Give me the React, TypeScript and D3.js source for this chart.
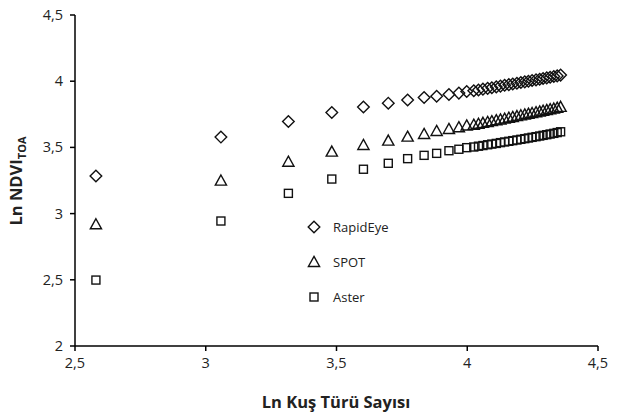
import React from "react";
import * as d3 from "d3";

const xValues = [
  2.580, 3.058, 3.316, 3.482, 3.603, 3.698, 3.772, 3.835, 3.883, 3.930, 3.968, 3.998,
  4.025, 4.043, 4.060, 4.078, 4.094, 4.111, 4.127, 4.143, 4.159, 4.174, 4.190, 4.205,
  4.220, 4.234, 4.248, 4.263, 4.277, 4.290, 4.304, 4.317, 4.331, 4.344, 4.357,
];
const rapidEye = [
  3.284, 3.578, 3.696, 3.764, 3.805, 3.834, 3.858, 3.877, 3.886, 3.900, 3.910, 3.922,
  3.928, 3.934, 3.940, 3.946, 3.951, 3.957, 3.963, 3.969, 3.974, 3.979, 3.985, 3.990,
  3.995, 4.000, 4.005, 4.010, 4.015, 4.020, 4.025, 4.030, 4.035, 4.040, 4.046,
];
const spot = [
  2.919, 3.249, 3.392, 3.468, 3.518, 3.551, 3.581, 3.601, 3.624, 3.639, 3.652, 3.665,
  3.671, 3.678, 3.685, 3.692, 3.698, 3.705, 3.711, 3.717, 3.724, 3.730, 3.736, 3.742,
  3.748, 3.754, 3.759, 3.765, 3.771, 3.777, 3.782, 3.788, 3.793, 3.799, 3.806,
];
const aster = [
  2.498, 2.944, 3.153, 3.261, 3.335, 3.380, 3.415, 3.440, 3.455, 3.475, 3.486, 3.498,
  3.503, 3.509, 3.514, 3.520, 3.525, 3.530, 3.536, 3.541, 3.546, 3.551, 3.556, 3.561,
  3.566, 3.571, 3.576, 3.581, 3.586, 3.591, 3.596, 3.601, 3.606, 3.612, 3.618,
];
const xTicks = [2.5, 3, 3.5, 4, 4.5];
const yTicks = [2, 2.5, 3, 3.5, 4, 4.5];
const seriesNames = ["RapidEye", "SPOT", "Aster"];

const W = 620;
const H = 419;
const FONT = "'Open Sans', 'Liberation Sans', sans-serif";

const fmt = (v: number) => String(v).replace(".", ",");

function Marker({ kind, x, y }: { kind: number; x: number; y: number }) {
  const stroke = "#111";
  if (kind === 0) {
    const r = 5.8;
    return (
      <path
        d={`M${x},${y - r}L${x + r},${y}L${x},${y + r}L${x - r},${y}Z`}
        fill="none"
        stroke={stroke}
        strokeWidth={1.4}
      />
    );
  }
  if (kind === 1) {
    const s = 5.6;
    return (
      <path
        d={`M${x},${y - s}L${x + s},${y + s * 0.8}L${x - s},${y + s * 0.8}Z`}
        fill="none"
        stroke={stroke}
        strokeWidth={1.4}
      />
    );
  }
  const h = 4;
  return (
    <rect x={x - h} y={y - h} width={2 * h} height={2 * h} fill="none" stroke={stroke} strokeWidth={1.4} />
  );
}

export default function App() {
  const x = d3.scaleLinear().domain([2.5, 4.5]).range([75, 598]);
  const y = d3.scaleLinear().domain([2, 4.5]).range([346, 15]);
  const series = [rapidEye, spot, aster];
  const legendY = [227, 262, 297];

  return (
    <svg
      width={W}
      height={H}
      style={{ position: "absolute", left: 0, top: 0, background: "#fff" }}
      fontFamily={FONT}
    >
      <rect width={W} height={H} fill="#fff" />
      <line x1={x(2.5)} x2={x(4.5)} y1={y(2)} y2={y(2)} stroke="#000" strokeWidth={1.5} />
      <line x1={x(2.5)} x2={x(2.5)} y1={y(2)} y2={y(4.5)} stroke="#000" strokeWidth={1.5} />
      {xTicks.map((t) => (
        <g key={"xt" + t}>
          <line x1={x(t)} x2={x(t)} y1={y(2)} y2={y(2) + 5} stroke="#000" strokeWidth={1.5} />
          <text x={x(t)} y={y(2) + 22} textAnchor="middle" fontSize={14.5} fill="#222">
            {fmt(t)}
          </text>
        </g>
      ))}
      {yTicks.map((t) => (
        <g key={"yt" + t}>
          <line x1={x(2.5) - 5} x2={x(2.5)} y1={y(t)} y2={y(t)} stroke="#000" strokeWidth={1.5} />
          <text x={x(2.5) - 12} y={y(t) + 5} textAnchor="end" fontSize={14.5} fill="#222">
            {fmt(t)}
          </text>
        </g>
      ))}
      <text x={336} y={408} textAnchor="middle" fontSize={16.5} fontWeight="bold" fill="#222">
        Ln Kuş Türü Sayısı
      </text>
      <text
        transform="translate(22,181) rotate(-90)"
        textAnchor="middle"
        fontSize={16.5}
        fontWeight="bold"
        fill="#222"
      >
        Ln NDVI
        <tspan fontSize={11} dy={4}>
          TOA
        </tspan>
      </text>
      {series.map((s, si) => (
        <g key={"s" + si}>
          {s.map((v, i) => (
            <Marker key={i} kind={si} x={x(xValues[i])} y={y(v)} />
          ))}
        </g>
      ))}
      {seriesNames.map((n, i) => (
        <g key={"lg" + n}>
          <Marker kind={i} x={314} y={legendY[i]} />
          <text x={333} y={legendY[i] + 5} fontSize={13} fill="#222">
            {n}
          </text>
        </g>
      ))}
    </svg>
  );
}
